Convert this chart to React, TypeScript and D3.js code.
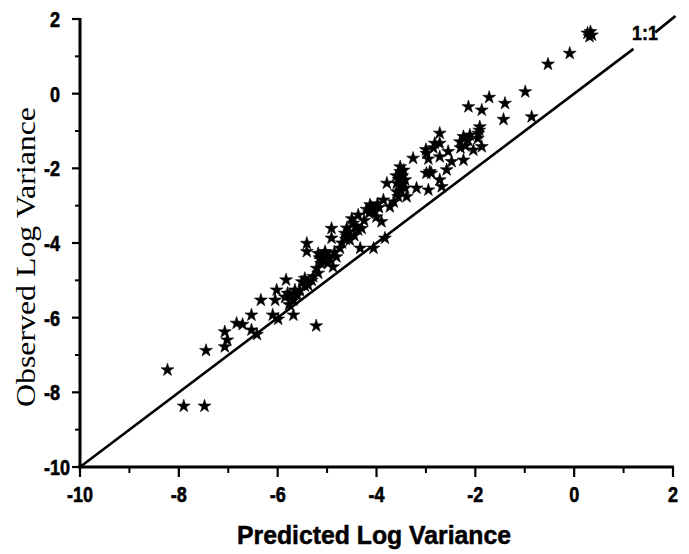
import React from "react";
import * as d3 from "d3";

const xTicks = [-10, -8, -6, -4, -2, 0, 2];
const yTicks = [-10, -8, -6, -4, -2, 0, 2];
const minorTicks = [-9, -7, -5, -3, -1, 1];

const predicted = [
  -8.23, -7.90, -7.48, -7.45, -7.07, -7.02, -7.07, -6.83, -6.71, -6.53,
  -6.53, -6.42, -6.34, -6.05, -6.10, -5.99, -5.68, -5.22, -6.02, -5.83,
  -5.75, -5.68, -5.65, -5.51, -5.45, -5.38, -5.28, -5.18, -5.41, -5.41,
  -5.18, -5.11, -5.04, -4.98, -4.91, -4.91, -4.81, -4.74, -4.64, -4.54,
  -4.47, -4.37, -4.33, -4.88, -5.21, -4.60, -4.37, -4.30, -4.13, -4.03,
  -3.90, -3.86, -3.73, -4.06, -3.83, -3.79, -3.59, -3.52, -3.52, -3.42,
  -3.42, -3.56, -3.39, -3.19, -3.59, -3.26, -2.99, -2.92, -2.95, -2.72,
  -2.72, -2.68, -2.82, -2.99, -2.89, -2.72, -2.72, -2.55, -2.48, -2.58,
  -2.31, -2.24, -2.24, -2.11, -2.04, -1.94, -1.91, -1.87, -2.14, -1.87,
  -1.72, -1.40, -1.43, -0.99, -0.86, -0.53, -0.09, 0.27, 0.31, 0.36,
  0.33, -5.31, -5.45, -5.55, -5.85, -5.77, -4.85, -4.70, -4.62, -4.45,
  -4.20, -4.00, -3.95, -3.65, -3.50, -4.10, -4.60, -5.00, -5.10, -3.60,
  -5.15, -5.05, -4.95, -5.12, -4.55, -4.42, -4.50, -3.48, -3.45, -3.55,
  -3.50, -2.20, -2.15, -1.95, -1.92, -2.30, -2.85, -3.00, -5.60, -5.80,
  -4.25, -4.15, -3.98, -2.95,
];
const observed = [
  -7.40, -8.37, -8.37, -6.88, -6.38, -6.60, -6.78, -6.15, -6.18, -5.93,
  -6.33, -6.45, -5.53, -5.53, -5.93, -6.04, -5.93, -6.22, -5.26, -4.99,
  -5.39, -5.53, -5.26, -5.04, -4.95, -5.13, -4.90, -4.81, -4.01, -4.23,
  -4.28, -4.46, -4.23, -4.54, -3.61, -3.87, -4.37, -4.14, -3.74, -3.92,
  -3.47, -3.65, -4.14, -4.64, -4.68, -3.83, -3.25, -3.61, -2.98, -3.16,
  -3.43, -2.85, -3.03, -4.14, -3.87, -2.40, -2.40, -2.09, -1.96, -2.31,
  -2.53, -2.76, -2.76, -2.53, -2.63, -1.73, -1.60, -2.09, -2.58, -1.69,
  -2.31, -2.49, -1.33, -2.13, -2.13, -1.06, -1.33, -1.55, -1.82, -2.04,
  -1.29, -1.15, -1.78, -1.11, -1.51, -1.06, -0.89, -1.42, -0.35, -0.44,
  -0.10, -0.26, -0.69, 0.05, -0.62, 0.79, 1.08, 1.62, 1.53, 1.57,
  1.66, -5.00, -5.15, -5.28, -5.45, -5.65, -4.25, -4.00, -3.90, -3.80,
  -3.10, -3.30, -3.05, -2.90, -2.45, -3.05, -3.60, -4.35, -4.35, -2.20,
  -4.40, -4.30, -4.42, -4.55, -3.70, -3.55, -3.35, -2.20, -2.05, -2.30,
  -2.60, -1.40, -1.25, -1.20, -0.98, -1.45, -1.45, -1.50, -5.40, -5.35,
  -3.40, -3.20, -2.95, -1.75,
];

const diagonal: [number, number][] = [[-10, -10], [1.2, 1.2]];
const diagonalTail: [number, number][] = [[1.64, 1.64], [2.05, 2.08]];

const W = 689;
const H = 554;

export default function App() {
  const x = d3.scaleLinear().domain([-10, 2]).range([80, 673]);
  const y = d3.scaleLinear().domain([-10, 2]).range([467, 19]);
  const star = d3.symbol().type(d3.symbolStar).size(52)();
  const sansBold = "'Liberation Sans', Arial, sans-serif";
  const x0 = x(-10), y0 = y(-10);
  const lineGen = d3.line<[number, number]>().x((d) => x(d[0])).y((d) => y(d[1]));

  return (
    <svg width={W} height={H} viewBox={`0 0 ${W} ${H}`} style={{ position: "absolute", left: 0, top: 0, background: "#fff", display: "block" }}>
      <rect x={0} y={0} width={W} height={H} fill="#fff" />
      {/* diagonal 1:1 line, interrupted by its label */}
      <path d={lineGen(diagonal) || ""} fill="none" stroke="#000" strokeWidth={2.6} />
      <path d={lineGen(diagonalTail) || ""} fill="none" stroke="#000" strokeWidth={2.8} />
      <text transform="translate(645,40) scale(0.85,1)" textAnchor="middle" fontFamily={sansBold} fontWeight="bold" fontSize={21} fill="#000" stroke="#000" strokeWidth={0.5}>1:1</text>

      {/* axes */}
      <line x1={x0} y1={y(2) - 1} x2={x0} y2={y0 + 1.5} stroke="#000" strokeWidth={3} />
      <line x1={x0 - 1.5} y1={y0} x2={x(2) + 1} y2={y0} stroke="#000" strokeWidth={3} />

      {xTicks.map((t) => (
        <g key={"xt" + t}>
          <line x1={x(t)} x2={x(t)} y1={y0} y2={y0 + 10} stroke="#000" strokeWidth={2.2} />
          <text transform={`translate(${x(t)},502) scale(0.82,1)`} textAnchor="middle" fontFamily={sansBold} fontWeight="bold" fontSize={22} fill="#000" stroke="#000" strokeWidth={0.6}>{t}</text>
        </g>
      ))}
      {minorTicks.map((t) => (
        <line key={"xm" + t} x1={x(t)} x2={x(t)} y1={y0} y2={y0 + 6} stroke="#000" strokeWidth={2} />
      ))}
      {yTicks.map((t) => (
        <g key={"yt" + t}>
          <line x1={x0 - 8} x2={x0} y1={y(t)} y2={y(t)} stroke="#000" strokeWidth={2.2} />
          <text transform={`translate(${t === -10 ? 70 : 60},${y(t) + 8}) scale(0.82,1)`} textAnchor="end" fontFamily={sansBold} fontWeight="bold" fontSize={22} fill="#000" stroke="#000" strokeWidth={0.6}>{t}</text>
        </g>
      ))}
      {minorTicks.map((t) => (
        <line key={"ym" + t} x1={x0 - 5} x2={x0} y1={y(t)} y2={y(t)} stroke="#000" strokeWidth={2} />
      ))}

      {/* points */}
      {predicted.map((p, i) => (
        <path key={"p" + i} d={star} transform={`translate(${x(p)},${y(observed[i])})`} fill="#000" stroke="#000" strokeWidth={0.6} />
      ))}

      {/* axis titles */}
      <text x={374} y={544} textAnchor="middle" fontFamily={sansBold} fontWeight="bold" fontSize={26} fill="#000" stroke="#000" strokeWidth={0.5}
        textLength={274} lengthAdjust="spacingAndGlyphs">Predicted Log Variance</text>
      <text transform="translate(35,257) rotate(-90)" textAnchor="middle" fill="#000"
        fontFamily="'Liberation Serif', 'Times New Roman', serif" fontSize={27}
        textLength={300} lengthAdjust="spacingAndGlyphs">Observed Log Variance</text>
    </svg>
  );
}
